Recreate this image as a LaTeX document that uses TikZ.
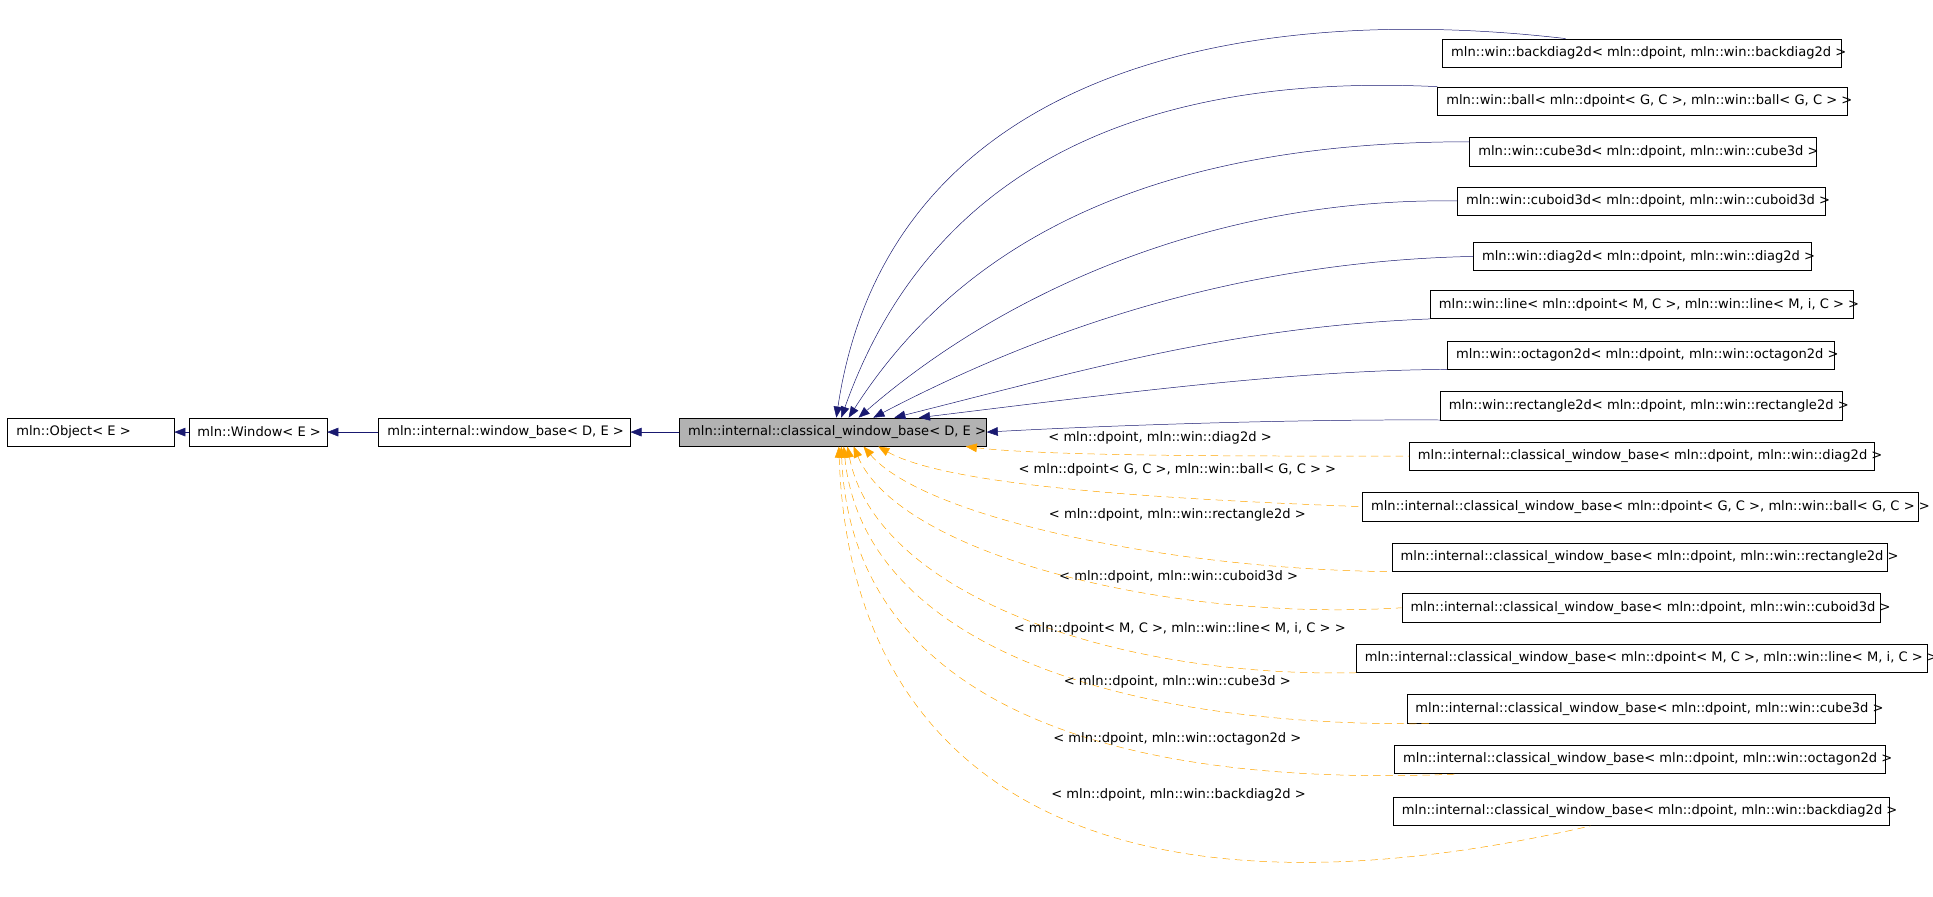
\documentclass[tikz,border=0pt]{standalone}
\usepackage{fontspec}
\setmainfont{DejaVu Sans}
\usetikzlibrary{arrows.meta}
\definecolor{navy}{RGB}{25,25,112}
\definecolor{dorange}{RGB}{255,165,0}
\tikzset{
  cls/.style={draw, rectangle, inner sep=0pt, minimum height=23pt, anchor=west},
  txt/.style={font=\fontsize{10.6}{12}\selectfont, inner sep=0pt, anchor=west},
  inh/.style={navy, {Triangle[length=9pt,width=7pt]}-},
  tpl/.style={dorange, dashed, dash pattern=on 6pt off 4pt, {Triangle[length=9pt,width=7pt]}-},
  lbl/.style={font=\fontsize{10.6}{12}\selectfont, inner sep=1pt}
}
% box from x1 to x2 at height y, with left-set text
\newcommand{\clsbox}[6][]{%
  \node[cls, #1, minimum width={#4-#3}] (#2) at (#3,#5) {};
  \node[txt] (#2t) at ([xshift=7pt]#2.west) {#6};
}
\begin{document}
\begin{tikzpicture}[x=1pt, y=-1pt]
\useasboundingbox (0,0) rectangle (1568,727);

\clsbox{obj}{6}{141}{350.5}{mln::Object< E >}
\clsbox{win}{153}{265}{350.5}{mln::Window< E >}
\clsbox{wb}{307}{511}{350.5}{mln::internal::window\_base< D, E >}
\clsbox[fill=black!30]{cwb}{551}{800}{350.5}{mln::internal::classical\_window\_base< D, E >}

\draw[inh] (obj) -- (win);
\draw[inh] (win) -- (wb);
\draw[inh] (wb) -- (cwb);

% derived classes
\clsbox{bd}{1170}{1493}{43}{mln::win::backdiag2d< mln::dpoint, mln::win::backdiag2d >}
\clsbox{ball}{1166}{1498}{82}{mln::win::ball< mln::dpoint< G, C >, mln::win::ball< G, C > >}
\clsbox{cube}{1192}{1473}{123}{mln::win::cube3d< mln::dpoint, mln::win::cube3d >}
\clsbox{cub}{1182}{1480}{163}{mln::win::cuboid3d< mln::dpoint, mln::win::cuboid3d >}
\clsbox{diag}{1195}{1469}{208}{mln::win::diag2d< mln::dpoint, mln::win::diag2d >}
\clsbox{line}{1160}{1503}{247}{mln::win::line< mln::dpoint< M, C >, mln::win::line< M, i, C > >}
\clsbox{oct}{1174}{1488}{288}{mln::win::octagon2d< mln::dpoint, mln::win::octagon2d >}
\clsbox{rect}{1168}{1494}{329}{mln::win::rectangle2d< mln::dpoint, mln::win::rectangle2d >}

\draw[inh] ([xshift=-122pt]cwb.north east) .. controls (720,60) and (1000,0) .. ([xshift=100pt]bd.north west);
\draw[inh] ([xshift=-118pt]cwb.north east) .. controls (760,120) and (950,60) .. (ball.north west);
\draw[inh] ([xshift=-112pt]cwb.north east) .. controls (790,180) and (960,115) .. (1192,115);
\draw[inh] ([xshift=-104pt]cwb.north east) .. controls (810,240) and (980,160) .. (cub.west);
\draw[inh] ([xshift=-92pt]cwb.north east) .. controls (840,270) and (1000,212) .. (diag.west);
\draw[inh] ([xshift=-75pt]cwb.north east) .. controls (880,300) and (1000,265) .. (line.south west);
\draw[inh] ([xshift=-55pt]cwb.north east) .. controls (900,320) and (1050,300) .. (oct.south west);
\draw[inh] (cwb.east) .. controls (900,345) and (1050,340) .. (rect.south west);

% template instances
\clsbox{ibd}{1130}{1532}{658}{mln::internal::classical\_window\_base< mln::dpoint, mln::win::backdiag2d >}
\clsbox{ioct}{1131}{1529}{616}{mln::internal::classical\_window\_base< mln::dpoint, mln::win::octagon2d >}
\clsbox{icube}{1141}{1521}{575}{mln::internal::classical\_window\_base< mln::dpoint, mln::win::cube3d >}
\clsbox{iline}{1100}{1563}{534}{mln::internal::classical\_window\_base< mln::dpoint< M, C >, mln::win::line< M, i, C > >}
\clsbox{icub}{1137}{1525}{493}{mln::internal::classical\_window\_base< mln::dpoint, mln::win::cuboid3d >}
\clsbox{irect}{1129}{1531}{452}{mln::internal::classical\_window\_base< mln::dpoint, mln::win::rectangle2d >}
\clsbox{iball}{1105}{1556}{411}{mln::internal::classical\_window\_base< mln::dpoint< G, C >, mln::win::ball< G, C > >}
\clsbox{idiag}{1143}{1520}{370}{mln::internal::classical\_window\_base< mln::dpoint, mln::win::diag2d >}

\draw[tpl] ([xshift=-17pt]cwb.south east) .. controls (850,370) and (1000,370) .. (idiag.west);
\draw[tpl] ([xshift=-88pt]cwb.south east) .. controls (770,395) and (950,405) .. (iball.west);
\draw[tpl] ([xshift=-100pt]cwb.south east) .. controls (750,420) and (950,462) .. (irect.south west);
\draw[tpl] ([xshift=-108pt]cwb.south east) .. controls (730,450) and (950,505) .. (icub.west);
\draw[tpl] ([xshift=-113pt]cwb.south east) .. controls (710,480) and (900,550) .. (iline.south west);
\draw[tpl] ([xshift=-116pt]cwb.south east) .. controls (700,520) and (900,590) .. (1160,587);
\draw[tpl] ([xshift=-118pt]cwb.south east) .. controls (690,560) and (880,640) .. (1180,628);
\draw[tpl] ([xshift=-120pt]cwb.south east) .. controls (690,640) and (900,760) .. (1290,670);

\node[lbl] (ldiag) at (941,355) {< mln::dpoint, mln::win::diag2d >};
\node[lbl] (lball) at (955,381) {< mln::dpoint< G, C >, mln::win::ball< G, C > >};
\node[lbl] (lrect) at (955,418) {< mln::dpoint, mln::win::rectangle2d >};
\node[lbl] (lcub) at (956,468) {< mln::dpoint, mln::win::cuboid3d >};
\node[lbl] (lline) at (957,510) {< mln::dpoint< M, C >, mln::win::line< M, i, C > >};
\node[lbl] (lcube) at (955,553) {< mln::dpoint, mln::win::cube3d >};
\node[lbl] (loct) at (955,599) {< mln::dpoint, mln::win::octagon2d >};
\node[lbl] (lbd) at (956,645) {< mln::dpoint, mln::win::backdiag2d >};
\end{tikzpicture}
\end{document}
